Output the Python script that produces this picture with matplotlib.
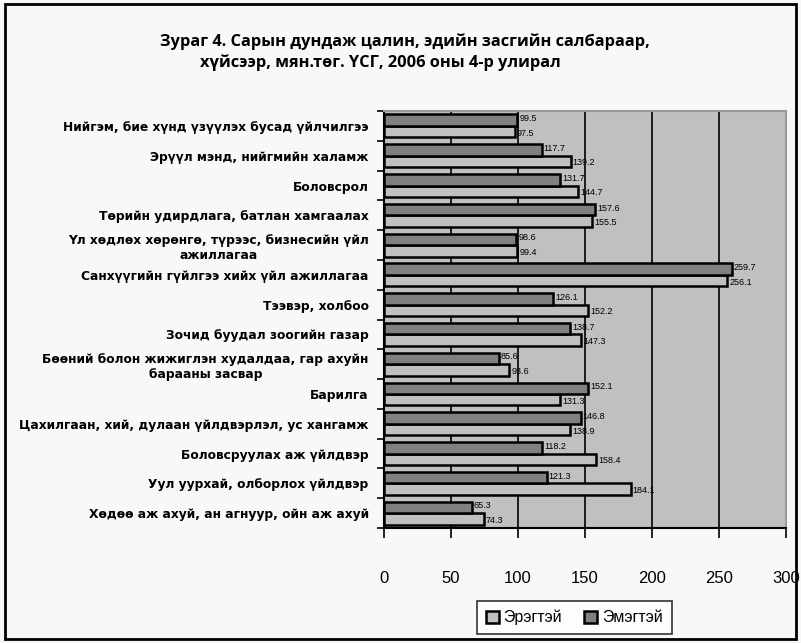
import matplotlib
matplotlib.use("Agg")
import matplotlib.pyplot as plt
from matplotlib.patches import Rectangle
import numpy as np

plt.rcParams['font.family'] = ['Liberation Sans', 'DejaVu Sans']

# Economic sectors, listed top to bottom
categories = [
    "Нийгэм, бие хүнд үзүүлэх бусад үйлчилгээ",
    "Эрүүл мэнд, нийгмийн халамж",
    "Боловсрол",
    "Төрийн удирдлага, батлан хамгаалах",
    "Үл хөдлөх хөрөнгө, түрээс, бизнесийн үйл\nажиллагаа",
    "Санхүүгийн гүйлгээ хийх үйл ажиллагаа",
    "Тээвэр, холбоо",
    "Зочид буудал зоогийн газар",
    "Бөөний болон жижиглэн худалдаа, гар ахуйн\nбарааны засвар",
    "Барилга",
    "Цахилгаан, хий, дулаан үйлдвэрлэл, ус хангамж",
    "Боловсруулах аж үйлдвэр",
    "Уул уурхай, олборлох үйлдвэр",
    "Хөдөө аж ахуй, ан агнуур, ойн аж ахуй",
]
# Average monthly wage, thousand tugrik
male = [97.5, 139.2, 144.7, 155.5, 99.4, 256.1, 152.2, 147.3, 93.6, 131.3, 138.9, 158.4, 184.1, 74.3]
female = [99.5, 117.7, 131.7, 157.6, 98.6, 259.7, 126.1, 138.7, 85.6, 152.1, 146.8, 118.2, 121.3, 65.3]
series_names = ["Эрэгтэй", "Эмэгтэй"]
x_ticks = [0, 50, 100, 150, 200, 250, 300]

title = ("Зураг 4. Сарын дундаж цалин, эдийн засгийн салбараар,\n"
         "хүйсээр, мян.төг. ҮСГ, 2006 оны 4-р улирал")

male_color = "#c0c0c0"
female_color = "#808080"
bg = "#f7f8fa"

fig = plt.figure(figsize=(8.01, 6.43), dpi=100, facecolor=bg)
ax = fig.add_axes([0.4794, 0.1788, 0.5019, 0.6485])
ax.set_facecolor("#c0c0c0")

n = len(categories)
y = np.arange(n)
h = 0.385
ax.barh(y + h / 2, male, height=h, color=male_color, edgecolor="black",
        linewidth=1.8, label=series_names[0], zorder=3)
ax.barh(y - h / 2, female, height=h, color=female_color, edgecolor="black",
        linewidth=1.8, label=series_names[1], zorder=3)

for i in range(n):
    ax.text(female[i] + 1.5, y[i] - h / 2 - 0.05, f"{female[i]:.1f}",
            fontsize=6.5, va="center", ha="left", zorder=4)
    ax.text(male[i] + 1.5, y[i] + h / 2 + 0.05, f"{male[i]:.1f}",
            fontsize=6.5, va="center", ha="left", zorder=4)

ax.set_ylim(n - 0.5, -0.5)
ax.set_xlim(0, 300)
ax.set_xticks(x_ticks)
ax.set_xticklabels([str(t) for t in x_ticks], fontsize=12)
ax.set_yticks(np.arange(n + 1) - 0.5, minor=False)
ax.set_yticklabels([])
ax.set_yticks(y, minor=True)
ax.set_yticklabels(categories, minor=True, fontsize=8.8, fontweight="bold",
                   multialignment="center", family=["DejaVu Sans"])
ax.tick_params(axis="y", which="minor", length=0, pad=11)
ax.tick_params(axis="y", which="major", length=5, width=1.2, direction="out")
ax.tick_params(axis="x", length=7, width=1.2, direction="out", pad=24)

ax.grid(axis="x", color="black", linewidth=1.2, zorder=1)
ax.set_axisbelow(True)
for s in ["left", "bottom"]:
    ax.spines[s].set_color("black")
    ax.spines[s].set_linewidth(1.5)
for s in ["top", "right"]:
    ax.spines[s].set_color("#9a9a9a")
    ax.spines[s].set_linewidth(1.5)

handles, labels = ax.get_legend_handles_labels()
leg = fig.legend(handles, labels, loc="center", bbox_to_anchor=(0.717, 0.0397),
                 ncol=2, fontsize=11.5, frameon=True, fancybox=False,
                 edgecolor="black", handlelength=0.8, handleheight=0.8,
                 handletextpad=0.3, columnspacing=1.4, borderpad=0.55)
leg.get_frame().set_linewidth(1.2)
leg.get_frame().set_facecolor("white")

fig.text(0.2, 0.935, title.split("\n")[0], fontsize=11.8, fontweight="bold",
         ha="left", va="center", family=["Open Sans", "DejaVu Sans"])
fig.text(0.25, 0.902, title.split("\n")[1], fontsize=11.8, fontweight="bold",
         ha="left", va="center", family=["Open Sans", "DejaVu Sans"])

fig.patches.append(Rectangle((0.006, 0.006), 0.988, 0.988, transform=fig.transFigure,
                             fill=False, edgecolor="black", linewidth=2))

fig.savefig("out.png", dpi=100, facecolor=bg)
